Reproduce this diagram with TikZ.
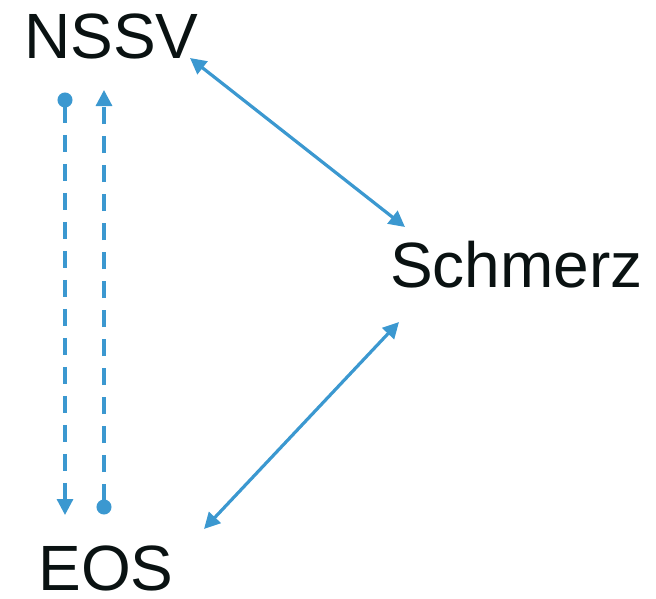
\documentclass[tikz,border=0pt]{standalone}
\usepackage{fontspec}
\setmainfont{Liberation Sans}
\usetikzlibrary{arrows.meta,calc}
\definecolor{lineblue}{RGB}{59,152,208}
\definecolor{txt}{RGB}{10,18,18}
\tikzset{
  label/.style={inner sep=0pt, anchor=base, text=txt, font=\fontsize{64}{72}\selectfont},
  conn/.style={draw=lineblue, line width=3.2pt},
  biarrow/.style={conn, {Triangle[length=16pt,width=16pt]}-{Triangle[length=16pt,width=16pt]}},
  dotarrow/.style={conn, dash pattern=on 17pt off 12pt, {Circle[length=15pt]}-{Triangle[length=16pt,width=16pt]}}
}
\begin{document}
\begin{tikzpicture}[x=1pt,y=1pt]
\useasboundingbox (0,0) rectangle (656,-598);
\node[label] (nssv) at (111.5,-58) {NSSV};
\node[label] (schmerz) at (516.5,-287) {Schmerz};
\node[label] (eos) at (106,-590) {EOS};
\draw[dotarrow] ($(nssv.base)+(-46.5,-34.5)$) -- ($(eos.base)+(-41,75)$);
\draw[dotarrow] ($(eos.base)+(-2,75.5)$) -- ($(nssv.base)+(-7.5,-32)$);
\draw[biarrow] ($(nssv.base)+(78.5,0)$) -- ($(schmerz.base)+(-111.5,60)$);
\draw[biarrow] ($(schmerz.base)+(-117.5,-35)$) -- ($(eos.base)+(98,61)$);
\end{tikzpicture}
\end{document}
